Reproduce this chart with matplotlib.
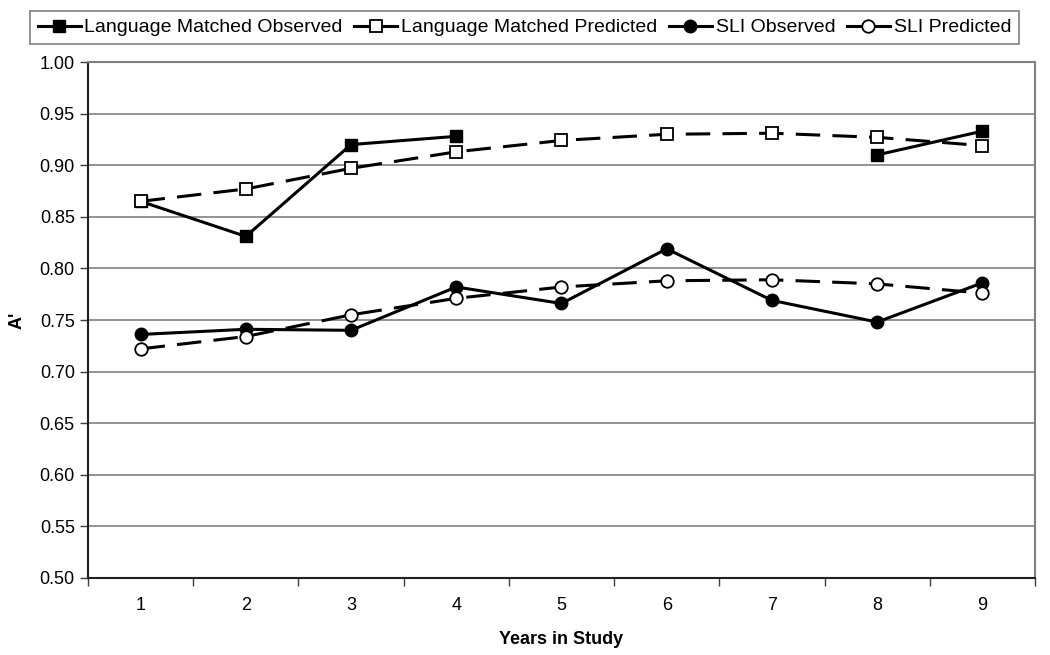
import numpy as np
import matplotlib.pyplot as plt
from matplotlib.lines import Line2D

plt.rcParams['font.family'] = ['Liberation Sans', 'DejaVu Sans']

years = [1, 2, 3, 4, 5, 6, 7, 8, 9]
lm_observed = [0.865, 0.831, 0.920, 0.928, np.nan, np.nan, np.nan, 0.910, 0.933]
lm_predicted = [0.865, 0.877, 0.897, 0.913, 0.924, 0.930, 0.931, 0.927, 0.919]
sli_observed = [0.736, 0.741, 0.740, 0.782, 0.766, 0.819, 0.769, 0.748, 0.786]
sli_predicted = [0.722, 0.734, 0.755, 0.771, 0.782, 0.788, 0.789, 0.785, 0.776]
labels = ['Language Matched Observed', 'Language Matched Predicted',
          'SLI Observed', 'SLI Predicted']

fig = plt.figure(figsize=(10.5, 6.55), dpi=100)
ax = fig.add_axes([0.0838, 0.1176, 0.9019, 0.7877])

dash = (0, (8, 4))
ax.plot(years, lm_observed, color='black', lw=2.2, marker='s', ms=9,
        mfc='black', mec='black', zorder=3)
ax.plot(years, lm_predicted, color='black', lw=2.2, ls=dash, marker='s', ms=9,
        mfc='white', mec='black', mew=1.3, zorder=4)
ax.plot(years, sli_observed, color='black', lw=2.2, marker='o', ms=9,
        mfc='black', mec='black', zorder=3)
ax.plot(years, sli_predicted, color='black', lw=2.2, ls=dash, marker='o', ms=9,
        mfc='white', mec='black', mew=1.3, zorder=4)

ax.set_ylim(0.5, 1.0)
ax.set_yticks(np.arange(0.5, 1.0001, 0.05))
ax.set_yticklabels([f"{v:.2f}" for v in np.arange(0.5, 1.0001, 0.05)], fontsize=13)
ax.yaxis.grid(True, color='#808080', lw=1.2)
ax.set_axisbelow(True)

ax.set_xlim(0.5, 9.5)
ax.set_xticks(years)
ax.set_xticklabels([str(y) for y in years], fontsize=13)
ax.tick_params(axis='x', length=0, pad=14)
ax.set_xticks(np.arange(0.5, 9.6, 1), minor=True)
ax.tick_params(axis='x', which='minor', length=6, width=1, color='#404040')
ax.tick_params(axis='y', length=6, width=1, color='#404040')

for side in ['top', 'right']:
    ax.spines[side].set_color('#808080')
    ax.spines[side].set_linewidth(1.5)
for side in ['left', 'bottom']:
    ax.spines[side].set_color('#202020')
    ax.spines[side].set_linewidth(1.5)

ax.set_xlabel('Years in Study', fontsize=13, fontweight='bold', labelpad=12)
ax.set_ylabel("A'", fontsize=13, fontweight='bold', labelpad=10)

handles = [
    Line2D([], [], color='black', lw=2.2, marker='s', ms=9, mfc='black', mec='black'),
    Line2D([], [], color='black', lw=2.2, marker='s', ms=9, mfc='white', mec='black', mew=1.3),
    Line2D([], [], color='black', lw=2.2, marker='o', ms=9, mfc='black', mec='black'),
    Line2D([], [], color='black', lw=2.2, marker='o', ms=9, mfc='white', mec='black', mew=1.3),
]
leg = fig.legend(handles, labels, loc='upper center', bbox_to_anchor=(0.4995, 0.998), ncol=4,
                 fontsize=14, frameon=True, fancybox=False, edgecolor='#606060',
                 handlelength=2.2, handletextpad=0.2, columnspacing=0.6,
                 borderpad=0.4)
leg.get_frame().set_linewidth(1.2)

fig.savefig('out.png', dpi=100)
